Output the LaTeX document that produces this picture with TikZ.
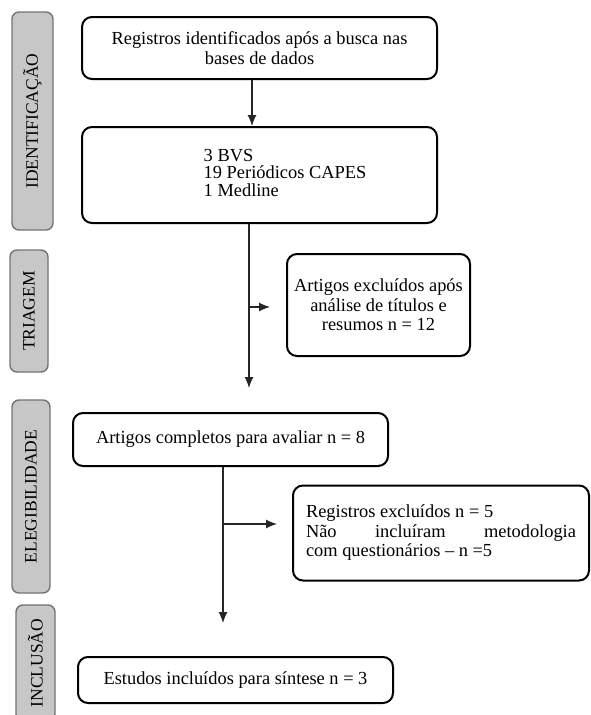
\documentclass[tikz,border=0pt]{standalone}
\usepackage{fontspec}
\setmainfont{Liberation Serif}
\usetikzlibrary{arrows.meta}

\begin{document}
\begin{tikzpicture}[x=1pt,y=-1pt,font=\fontsize{18.4}{19.5}\selectfont,
                        caixa/.style={draw,line width=2pt,rounded corners=10pt,fill=white,align=center,inner sep=0pt},
                        fase/.style={draw=black!55,line width=1.4pt,fill=black!22,rounded corners=7pt,rotate=90,inner sep=0pt,font=\fontsize{17.5}{19}\selectfont},
                        seta/.style={-{Latex[length=11pt,width=9pt]},line width=1.2pt,draw=black!85}]
                        \useasboundingbox(0,0)rectangle(590,715);
                        \clip(0,0)rectangle(590,715);
                        \node[fase,minimum width=218,minimum height=41](ident)at(32.5,121){IDENTIFICAÇÃO};
                        \node[fase,minimum width=122,minimum height=38](triag)at(29,311){TRIAGEM};
                        \node[fase,minimum width=193,minimum height=38](eleg)at(31,496.5){ELEGIBILIDADE};
                        \node[fase,minimum width=116,minimum height=39](inclus)at(35.5,663){INCLUSÃO};
                        \node[caixa,minimum width=355,minimum height=62](reg)at(259.5,48){Registros identificados após a busca nas\\bases de dados};
                        \node[caixa,minimum width=355,minimum height=96](bases)at(259.5,175){\hspace*{51pt}\begin{tabular}{@{}l@{}}3 BVS\\[-2pt]19 Periódicos CAPES\\[-2pt]1 Medline\end{tabular}};
                        \node[caixa,minimum width=183,minimum height=102](excl)at(378.5,305){Artigos excluídos após\\análise de títulos e\\resumos n = 12};
                        \node[caixa,minimum width=315,minimum height=53](compl)at(230.5,439.5){Artigos completos para avaliar n = 8};
                        \node[caixa,minimum width=296,minimum height=95,text width=270pt,align=justify](exclB)at(441,533){Registros excluídos n = 5\\Não incluíram metodologia\linebreak com questionários – n =5};
                        \node[caixa,minimum width=315,minimum height=46](incl)at(235.5,680){Estudos incluídos para síntese n = 3};
                        \coordinate(A)at(252,0);
                        \coordinate(B)at(249,388);
                        \coordinate(C)at(270,307);
                        \coordinate(D)at(223,623);
                        \coordinate(E)at(277,524);
                        \draw[seta](reg.south -| A)--(bases.north -| A);
                        \draw[seta](bases.south -| B)--(B);
                        \draw[seta](C -| B)--(C);
                        \draw[seta](compl.south -| D)--(D);
                        \draw[seta](E -| D)--(E);
                    \end{tikzpicture}
\end{document}
